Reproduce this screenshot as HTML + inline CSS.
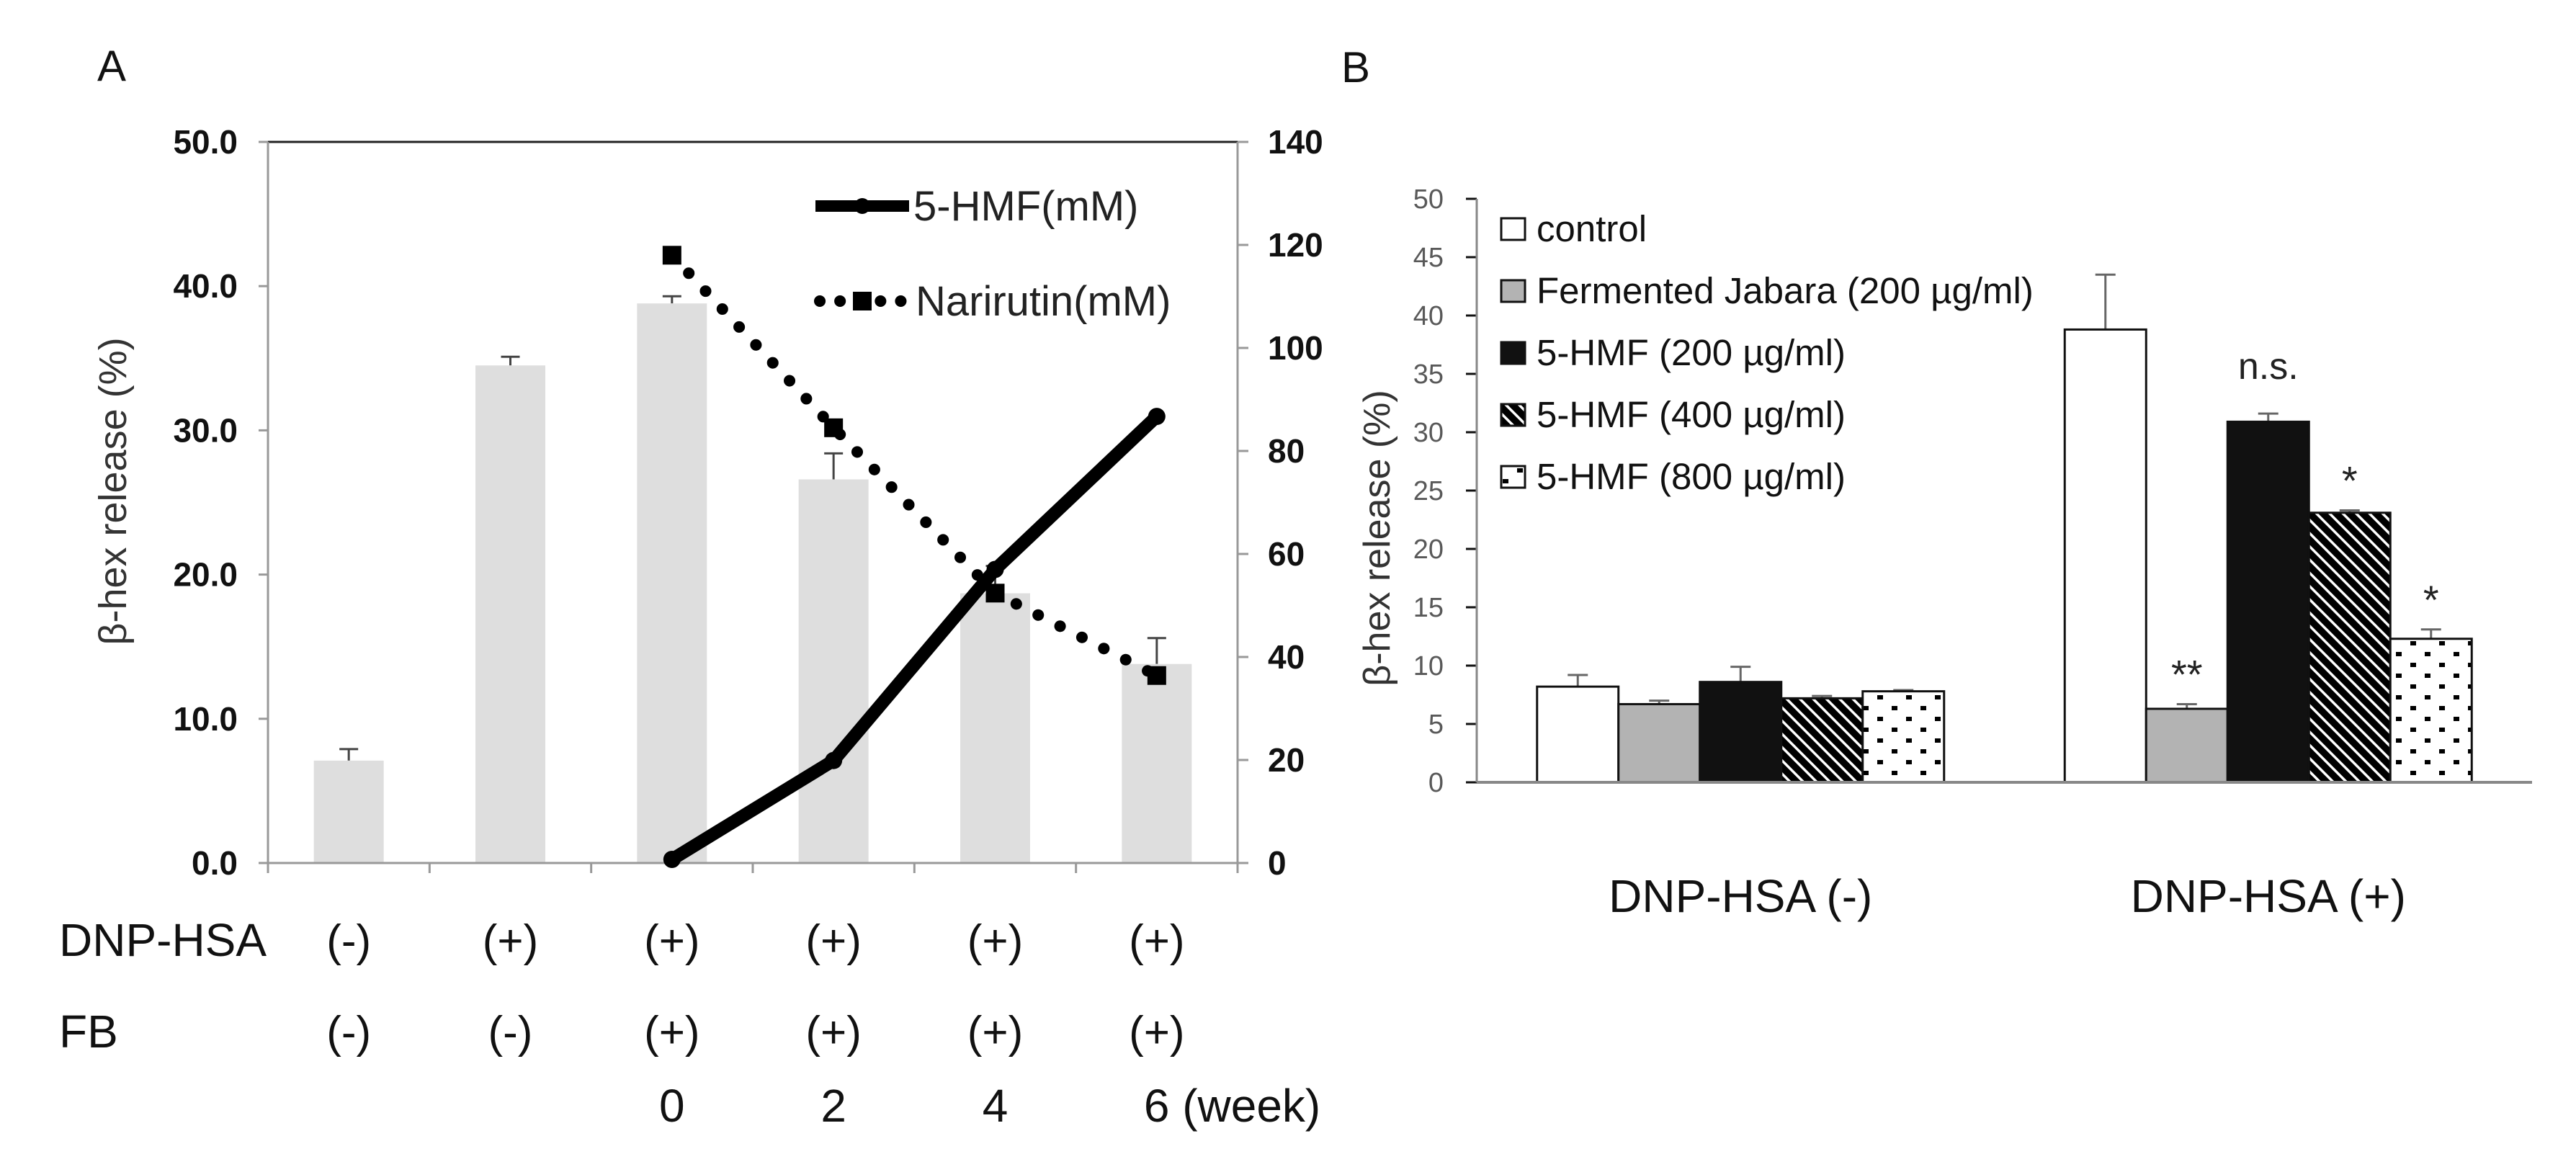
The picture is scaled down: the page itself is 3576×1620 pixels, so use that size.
<!DOCTYPE html>
<html><head><meta charset="utf-8">
<style>
html,body{margin:0;padding:0;background:#fff;}
svg{display:block;font-family:"Liberation Sans",Arial,sans-serif;}
</style></head>
<body>
<svg id="fig" width="3576" height="1620" viewBox="0 0 3576 1620" xmlns="http://www.w3.org/2000/svg">
<defs>
<pattern id="hatch" patternUnits="userSpaceOnUse" width="13" height="13" patternTransform="rotate(-45)">
<rect width="13" height="13" fill="#000"/>
<rect x="0" y="0" width="3.5" height="13" fill="#fff"/>
</pattern>
<pattern id="dots" patternUnits="userSpaceOnUse" width="40" height="30">
<rect width="40" height="30" fill="#fff"/>
<rect x="6" y="5" width="8" height="6" fill="#000"/>
<rect x="26" y="20" width="8" height="6" fill="#000"/>
</pattern>
</defs>
<text x="135" y="112" font-size="60" fill="#111">A</text>
<text x="1862" y="114" font-size="60" fill="#111">B</text>
<g id="chartA"></g>
<g id="chartB"></g>
</svg>
<script>
// ---- Panel A data ----
const aCategories = ["1","2","3","4","5","6"];
const aBarValues = [7.1, 34.5, 38.8, 26.6, 18.7, 13.8];
const aBarErrors = [7.9, 35.1, 39.3, 28.4, 20.6, 15.6];
const aLeftTicks = ["0.0","10.0","20.0","30.0","40.0","50.0"];
const aRightTicks = ["0","20","40","60","80","100","120","140"];
const aHmfIdx = [2,3,4,5];
const aHmfValues = [0.7, 19.9, 57, 86.7];
const aNarIdx = [2,3,4,5];
const aNarValues = [118, 84.5, 52.4, 36.4];
const aDnpRow = ["(-)","(+)","(+)","(+)","(+)","(+)"];
const aFbRow = ["(-)","(-)","(+)","(+)","(+)","(+)"];
const aWeekRow = ["","","0","2","4","6 (week)"];
// ---- Panel B data ----
const bGroups = ["DNP-HSA (-)","DNP-HSA (+)"];
const bSeries = ["control","Fermented Jabara (200 µg/ml)","5-HMF (200 µg/ml)","5-HMF (400 µg/ml)","5-HMF (800 µg/ml)"];
const bValuesNeg = [8.2, 6.7, 8.6, 7.2, 7.8];
const bErrorsNeg = [9.2, 7.0, 9.9, 7.4, 7.9];
const bValuesPos = [38.8, 6.3, 30.9, 23.1, 12.3];
const bErrorsPos = [43.5, 6.7, 31.6, 23.3, 13.1];
const bSigPos = ["", "**", "n.s.", "*", "*"];
const bTicks = ["0","5","10","15","20","25","30","35","40","45","50"];

const NS="http://www.w3.org/2000/svg";
function mk(parent, tag, attrs, text){
  const e=document.createElementNS(NS,tag);
  for(const k in attrs) e.setAttribute(k,attrs[k]);
  if(text!==undefined) e.textContent=text;
  parent.appendChild(e); return e;
}

// ===== Chart A =====
(function(){
  const g=document.getElementById('chartA');
  const L=372,R=1718,T=197,B=1198;
  const cw=(R-L)/aCategories.length;
  const yL=v=>B-(v/50)*(B-T);
  const yR=v=>B-(v/140)*(B-T);
  const xC=i=>L+cw*(i+0.5);
  aBarValues.forEach((v,i)=>{
    const bw=97;
    const eb=mk(g,'line',{x1:xC(i),x2:xC(i),y1:yL(v),y2:yL(aBarErrors[i]),stroke:'#444','stroke-width':3});
    
    
    const cap=mk(g,'line',{x1:xC(i)-13,x2:xC(i)+13,y1:yL(aBarErrors[i]),y2:yL(aBarErrors[i]),stroke:'#444','stroke-width':3});
    
    
    const r=mk(g,'rect',{x:xC(i)-bw/2,y:yL(v),width:bw,height:B-yL(v),fill:'#dedede'});
    
    
  });
  mk(g,'line',{x1:L,x2:R,y1:T,y2:T,stroke:'#222','stroke-width':3});
  mk(g,'line',{x1:L,x2:L,y1:T,y2:B,stroke:'#999','stroke-width':3});
  mk(g,'line',{x1:R,x2:R,y1:T,y2:B,stroke:'#999','stroke-width':3});
  mk(g,'line',{x1:L,x2:R,y1:B,y2:B,stroke:'#999','stroke-width':3});
  for(let i=0;i<=aCategories.length;i++){
    mk(g,'line',{x1:L+cw*i,x2:L+cw*i,y1:B,y2:B+14,stroke:'#999','stroke-width':3});
  }
  aLeftTicks.forEach((t,i)=>{
    const y=yL(i*10);
    mk(g,'line',{x1:L-13,x2:L,y1:y,y2:y,stroke:'#999','stroke-width':3});
    const tx=mk(g,'text',{x:330,y:y+16,'font-size':46,'font-weight':'bold','text-anchor':'end',fill:'#111'},t);
    
    
  });
  aRightTicks.forEach((t,i)=>{
    const y=yR(i*20);
    mk(g,'line',{x1:R,x2:R+15,y1:y,y2:y,stroke:'#999','stroke-width':3});
    const tx=mk(g,'text',{x:1760,y:y+16,'font-size':46,'font-weight':'bold',fill:'#111'},t);
    
    
  });
  const yt=mk(g,'text',{x:0,y:0,'font-size':54,fill:'#333','text-anchor':'middle',transform:'translate(175,682) rotate(-90)'},'β-hex release (%)');
  
  
  const nPts=aNarIdx.map((c,k)=>[xC(c),yR(aNarValues[k])]);
  const nl=mk(g,'polyline',{points:nPts.map(p=>p.join(',')).join(' '),fill:'none',stroke:'#000','stroke-width':16,'stroke-linecap':'round','stroke-dasharray':'0.1 34'});
  
  
  nPts.forEach(p=>{
    const s=mk(g,'rect',{x:p[0]-13,y:p[1]-13,width:26,height:26,fill:'#000'});
    
    
  });
  const hPts=aHmfIdx.map((c,k)=>[xC(c),yR(aHmfValues[k])]);
  const hl=mk(g,'polyline',{points:hPts.map(p=>p.join(',')).join(' '),fill:'none',stroke:'#000','stroke-width':18,'stroke-linejoin':'round'});
  
  
  hPts.forEach(p=>{
    const c=mk(g,'circle',{cx:p[0],cy:p[1],r:12,fill:'#000'});
    
    
  });
  const lg=mk(g,'g',{});
  
  
  mk(lg,'line',{x1:1132,x2:1262,y1:286,y2:286,stroke:'#000','stroke-width':16});
  mk(lg,'circle',{cx:1197,cy:286,r:11,fill:'#000'});
  mk(lg,'text',{x:1268,y:306,'font-size':58,fill:'#222'},'5-HMF(mM)');
  mk(lg,'line',{x1:1138,x2:1252,y1:418,y2:418,stroke:'#000','stroke-width':16,'stroke-linecap':'round','stroke-dasharray':'0.1 28'});
  mk(lg,'rect',{x:1184,y:405,width:26,height:26,fill:'#000'});
  mk(lg,'text',{x:1271,y:438,'font-size':58,fill:'#222'},'Narirutin(mM)');
  const rl=[['DNP-HSA',1304,aDnpRow],['FB',1431,aFbRow]];
  rl.forEach(([lab,y,row])=>{
    const t=mk(g,'text',{x:82,y:y+23,'font-size':64,fill:'#111'},lab);
    
    
    row.forEach((s,i)=>{
      const c=mk(g,'text',{x:xC(i),y:y+23,'font-size':62,fill:'#111','text-anchor':'middle'},s);
      
      
    });
  });
  aWeekRow.forEach((s,i)=>{
    if(!s) return;
    const anchorStart=s.length>2;
    const c=mk(g,'text',{x:anchorStart?xC(i)-18:xC(i),y:1557,'font-size':64,fill:'#111','text-anchor':anchorStart?'start':'middle'},s);
    
    
  });
})();

// ===== Chart B =====
(function(){
  const g=document.getElementById('chartB');
  const L=2050,R=3515,T=276,B=1086;
  const y=v=>B-(v/50)*(B-T);
  const gw=(R-L)/bGroups.length;
  const bw=113;
  const fills=['#fff','#b3b3b3','#111','url(#hatch)','url(#dots)'];
  const gc=i=>L+gw*(i+0.5);
  bTicks.forEach((t,i)=>{
    const yy=y(i*5);
    mk(g,'line',{x1:L-15,x2:L,y1:yy,y2:yy,stroke:'#111','stroke-width':3});
    const tx=mk(g,'text',{x:2004,y:yy+13,'font-size':38,fill:'#595959','text-anchor':'end'},t);
    
    
  });
  mk(g,'line',{x1:L,x2:L,y1:T,y2:B,stroke:'#888','stroke-width':3});
  const yt=mk(g,'text',{x:0,y:0,'font-size':52,fill:'#333','text-anchor':'middle',transform:'translate(1929,747) rotate(-90)'},'β-hex release (%)');
  
  
  [[bValuesNeg,bErrorsNeg,null],[bValuesPos,bErrorsPos,bSigPos]].forEach(([vals,errs,sig],gi)=>{
    const x0=gc(gi)-bw*vals.length/2;
    vals.forEach((v,i)=>{
      const x=x0+bw*i;
      const cx=x+bw/2;
      const e=mk(g,'line',{x1:cx,x2:cx,y1:y(v),y2:y(errs[i]),stroke:'#666','stroke-width':3});
      
      
      const c=mk(g,'line',{x1:cx-14,x2:cx+14,y1:y(errs[i]),y2:y(errs[i]),stroke:'#666','stroke-width':3});
      
      
      const r=mk(g,'rect',{x:x,y:y(v),width:bw,height:B-y(v),fill:fills[i],stroke:'#111','stroke-width':3});
      
      
      if(sig && sig[i]){
        const ns=sig[i]==='n.s.';
        const s=mk(g,'text',{x:cx,y:y(errs[i])-(ns?48:22),'font-size':ns?52:56,fill:'#222','text-anchor':'middle'},sig[i]);
        
        
      }
    });
    const gl=mk(g,'text',{x:gc(gi),y:1266,'font-size':64,fill:'#111','text-anchor':'middle'},bGroups[gi]);
    
    
  });
  mk(g,'line',{x1:L,x2:R,y1:B,y2:B,stroke:'#888','stroke-width':4});
  const lg=mk(g,'g',{});
  
  
  bSeries.forEach((s,i)=>{
    const cy=318+86*i;
    const bx=mk(lg,'rect',{x:2084,y:cy-15,width:33,height:30,fill:fills[i],stroke:'#111','stroke-width':3});
    
    
    const t=mk(lg,'text',{x:2133,y:cy+17,'font-size':51,fill:'#111'},s);
    
    
  });
})();
</script>
</body></html>
